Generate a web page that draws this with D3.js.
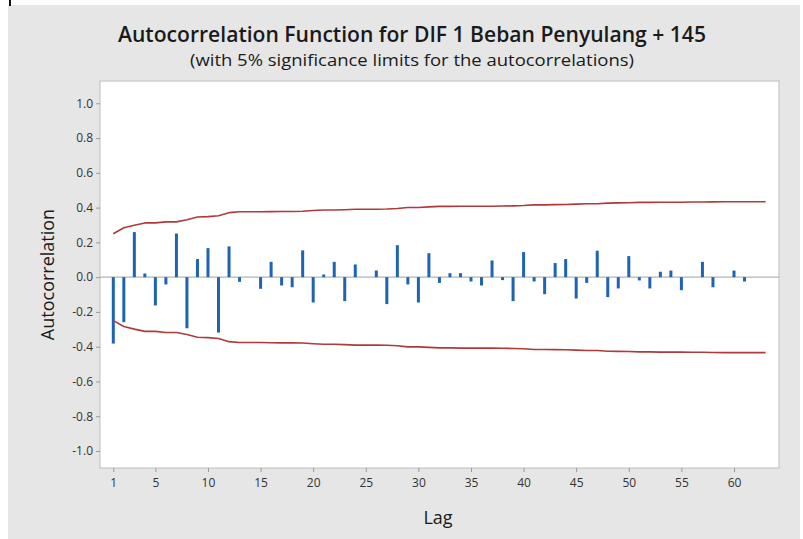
<!DOCTYPE html>
<html>
<head>
<meta charset="utf-8">
<script src="https://cdn.jsdelivr.net/npm/d3@7"></script>
<style>
  html, body { margin: 0; padding: 0; background: #ffffff; }
  svg { display: block; }
  text { font-family: "Open Sans", "Noto Sans", sans-serif; }
</style>
</head>
<body>
<svg id="chart" width="803" height="539"></svg>
<script>
// ---- data ----
const titleText = "Autocorrelation Function for DIF 1 Beban Penyulang + 145";
const subtitleText = "(with 5% significance limits for the autocorrelations)";
const lags = d3.range(1, 64);
const acf = [
  -0.382, -0.259, 0.259, 0.021, -0.163, -0.042, 0.251, -0.294, 0.104, 0.167,
  -0.319, 0.177, -0.027, 0.000, -0.067, 0.088, -0.048, -0.058, 0.154, -0.146,
  0.015, 0.088, -0.138, 0.073, 0.000, 0.038, -0.155, 0.184, -0.042, -0.146,
  0.138, -0.033, 0.023, 0.023, -0.025, -0.048, 0.096, -0.017, -0.138, 0.144,
  -0.025, -0.098, 0.081, 0.104, -0.123, -0.033, 0.152, -0.115, -0.065, 0.121,
  -0.019, -0.065, 0.031, 0.038, -0.075, 0.000, 0.088, -0.058, 0.000, 0.038,
  -0.025, 0.000, 0.000
];
const limit = [
  0.250, 0.284, 0.299, 0.312, 0.312, 0.318, 0.318, 0.330, 0.346, 0.348,
  0.353, 0.371, 0.376, 0.376, 0.376, 0.377, 0.378, 0.378, 0.379, 0.383,
  0.386, 0.386, 0.388, 0.391, 0.391, 0.391, 0.392, 0.395, 0.401, 0.401,
  0.404, 0.407, 0.407, 0.408, 0.408, 0.408, 0.408, 0.409, 0.410, 0.412,
  0.416, 0.416, 0.417, 0.418, 0.420, 0.422, 0.422, 0.426, 0.427, 0.428,
  0.430, 0.430, 0.431, 0.431, 0.431, 0.432, 0.432, 0.433, 0.434, 0.434,
  0.434, 0.434, 0.434
];
const xTicks = [1, 5, 10, 15, 20, 25, 30, 35, 40, 45, 50, 55, 60];
const yTicks = [1.0, 0.8, 0.6, 0.4, 0.2, 0.0, -0.2, -0.4, -0.6, -0.8, -1.0];

// ---- layout ----
const svg = d3.select("#chart");
const plot = { left: 100, right: 779, top: 81, bottom: 468 };

svg.append("rect").attr("x", 8).attr("y", 5).attr("width", 792).attr("height", 534)
  .attr("fill", "#e6e6e6");
svg.append("line").attr("x1", 10).attr("x2", 10).attr("y1", 0).attr("y2", 6)
  .attr("stroke", "#111").attr("stroke-width", 2);

svg.append("rect")
  .attr("x", plot.left).attr("y", plot.top)
  .attr("width", plot.right - plot.left).attr("height", plot.bottom - plot.top)
  .attr("fill", "#ffffff").attr("stroke", "#bdbdbd").attr("stroke-width", 1);

const x = d3.scaleLinear().domain([1, 60]).range([113.3, 734]);
const y = d3.scaleLinear().domain([-1, 1]).range([451, 103.3]);

// titles
svg.append("text").attr("x", 412).attr("y", 42).attr("text-anchor", "middle")
  .attr("font-size", 21).attr("font-weight", 600).attr("fill", "#1a1a1a")
  .attr("textLength", 588).attr("lengthAdjust", "spacingAndGlyphs").text(titleText);
svg.append("text").attr("x", 412).attr("y", 66).attr("text-anchor", "middle")
  .attr("font-size", 16.5).attr("font-weight", 500).attr("fill", "#1a1a1a")
  .attr("textLength", 444).attr("lengthAdjust", "spacingAndGlyphs").text(subtitleText);

// y axis
const yAxis = d3.axisLeft(y).tickValues(yTicks).tickFormat(d3.format(".1f")).tickSize(4).tickPadding(3);
const gy = svg.append("g").attr("transform", `translate(${plot.left},0)`).call(yAxis);
gy.select(".domain").remove();
gy.selectAll(".tick line").attr("stroke", "#9a9a9a");
gy.selectAll(".tick text").attr("font-size", 12).attr("fill", "#333")
  .attr("font-family", "\"Open Sans\", sans-serif")
  .text(d => d3.format(".1f")(d).replace("−", "-"));

// x axis
const xAxis = d3.axisBottom(x).tickValues(xTicks).tickSize(4).tickPadding(6);
const gx = svg.append("g").attr("transform", `translate(0,${plot.bottom})`).call(xAxis);
gx.select(".domain").remove();
gx.selectAll(".tick line").attr("stroke", "#9a9a9a");
gx.selectAll(".tick text").attr("font-size", 12).attr("fill", "#333")
  .attr("font-family", "\"Open Sans\", sans-serif");

// axis titles
svg.append("text").attr("transform", `translate(54,${(plot.top + plot.bottom) / 2}) rotate(-90)`)
  .attr("text-anchor", "middle").attr("font-size", 18).attr("fill", "#1a1a1a").text("Autocorrelation");
svg.append("text").attr("x", 438).attr("y", 524).attr("text-anchor", "middle")
  .attr("font-size", 18).attr("fill", "#1a1a1a").text("Lag");

// zero reference line
svg.append("line").attr("x1", plot.left).attr("x2", plot.right)
  .attr("y1", y(0)).attr("y2", y(0)).attr("stroke", "#b4b4b4").attr("stroke-width", 1.2);

// bars
svg.append("g").selectAll("rect").data(lags.map((l, i) => ({ lag: l, v: acf[i] })).filter(d => d.v !== 0))
  .join("rect")
  .attr("x", d => x(d.lag) - 1.5)
  .attr("width", 3)
  .attr("y", d => Math.min(y(d.v), y(0)))
  .attr("height", d => Math.abs(y(d.v) - y(0)))
  .attr("fill", "#1f64b2");

// significance limits
const line = d3.line().x(d => x(d[0])).y(d => y(d[1])).curve(d3.curveLinear);
const upper = lags.map((l, i) => [l, limit[i]]);
const lower = lags.map((l, i) => [l, -limit[i]]);
[upper, lower].forEach(pts => {
  svg.append("path").attr("d", line(pts)).attr("fill", "none")
    .attr("stroke", "#b03a3a").attr("stroke-width", 1.6).attr("stroke-linejoin", "round");
});
</script>
</body>
</html>
